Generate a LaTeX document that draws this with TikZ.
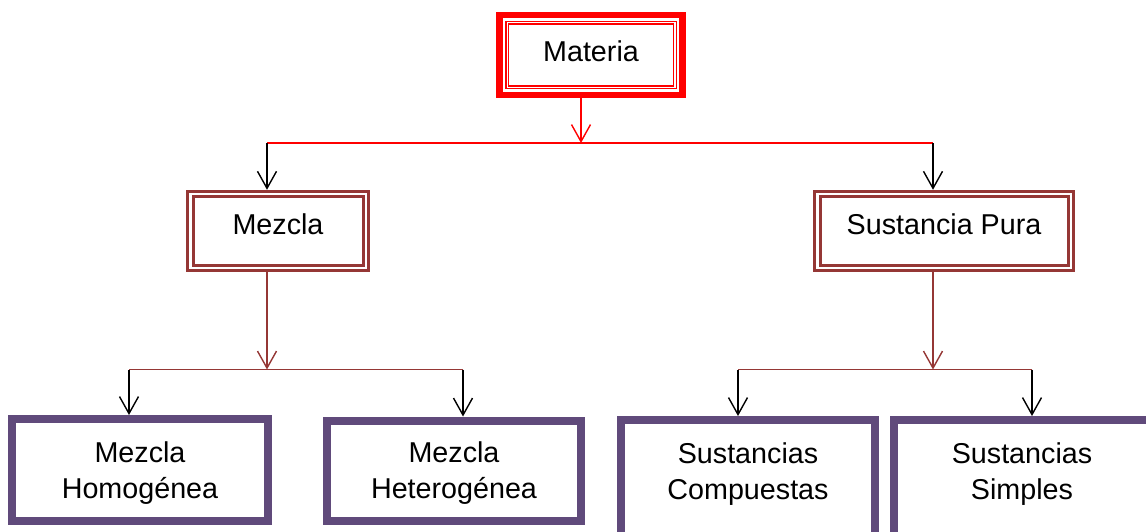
\documentclass[tikz,border=0pt]{standalone}
\usepackage{fontspec}
\setmainfont{Liberation Sans}
\usetikzlibrary{arrows.meta,fit}
\definecolor{matred}{RGB}{255,0,0}
\definecolor{mixbrown}{RGB}{149,55,53}
\definecolor{leafpurple}{RGB}{96,74,123}

\begin{document}
\begin{tikzpicture}[x=1pt,y=-1pt,
  every node/.style={inner sep=0pt, font=\fontsize{28.7}{36}\selectfont, align=center},
  topbox/.style={draw=matred, line width=1.3pt, double=white, double distance=1.3pt,
    outer sep=0pt, minimum width=167.7pt, minimum height=64.4pt,
    text height=20.5pt, text depth=7.4pt},
  topframe/.style={draw=matred, line width=6.5pt, outer sep=3.25pt, inner sep=7.6pt},
  midbox/.style={draw=mixbrown, line width=3pt, double=white, double distance=2.5pt,
    outer sep=4.25pt, minimum height=74pt, text height=20.5pt, text depth=14pt},
  leafbox/.style={draw=leafpurple, line width=8pt, outer sep=4pt, text depth=0pt},
  leafopen/.style={outer sep=0pt, text depth=0pt},
  leafedge/.style={draw=leafpurple, line width=8pt},
  link/.style={line width=1.4pt, -{Straight Barb[length=17pt,width=19pt]}},
  bar/.style={line width=1.7pt}
]
\useasboundingbox (0,0) rectangle (1146,531);
\clip (0,0) rectangle (1146,531);

% root
\node[topbox] (mat) at (591,55) {Materia};
\node[topframe, fit=(mat)] (matf) {};

% second level
\node[midbox, minimum width=175.5pt] (mez) at (278,231) {Mezcla};
\node[midbox, minimum width=253.5pt] (pur) at (944,231) {Sustancia Pura};

% leaves
\node[leafbox, minimum width=256pt, minimum height=102pt] (hom) at (140,470) {Mezcla\\Homogénea};
\node[leafbox, minimum width=254pt, minimum height=100pt] (het) at (454,470.5) {Mezcla\\Heterogénea};
\node[leafopen, minimum width=254pt, minimum height=103pt] (com) at (748,471.5) {Sustancias\\Compuestas};
\node[leafopen, minimum width=256pt, minimum height=103pt] (sim) at (1022,471.5) {Sustancias\\Simples};
\draw[leafedge] ([yshift=-40pt]com.south west) -- (com.north west) -- (com.north east) -- ([yshift=-40pt]com.south east);
\draw[leafedge] ([yshift=-40pt]sim.south west) -- (sim.north west) -- (sim.north east) -- ([yshift=-40pt]sim.south east);

% junction points
\coordinate (jm) at (581,143);
\coordinate (jl) at (267,143);
\coordinate (jr) at (933,143);
\coordinate (ml) at (129,369.5);
\coordinate (mm) at (267,369.5);
\coordinate (mr) at (463,369.5);
\coordinate (sl) at (738,369.5);
\coordinate (sm) at (933,369.5);
\coordinate (sr) at (1032,369.5);

% Materia -> Mezcla / Sustancia Pura
\draw[link, matred] (matf.south -| jm) -- (jm);
\draw[bar, matred] (jl) -- (jr);
\draw[link] (jl) -- (jl |- mez.north);
\draw[link] (jr) -- (jr |- pur.north);

% Mezcla -> leaves
\draw[link, mixbrown] (mez.south -| mm) -- (mm);
\draw[link] (ml) -- (ml |- hom.north);
\draw[link] (mr) -- (mr |- het.north);
\draw[bar, mixbrown] (ml) -- (mr);

% Sustancia Pura -> leaves
\draw[link, mixbrown] (pur.south -| sm) -- (sm);
\draw[link, shorten >=4pt] (sl) -- (sl |- com.north);
\draw[link, shorten >=4pt] (sr) -- (sr |- sim.north);
\draw[bar, mixbrown] (sl) -- (sr);
\end{tikzpicture}
\end{document}
